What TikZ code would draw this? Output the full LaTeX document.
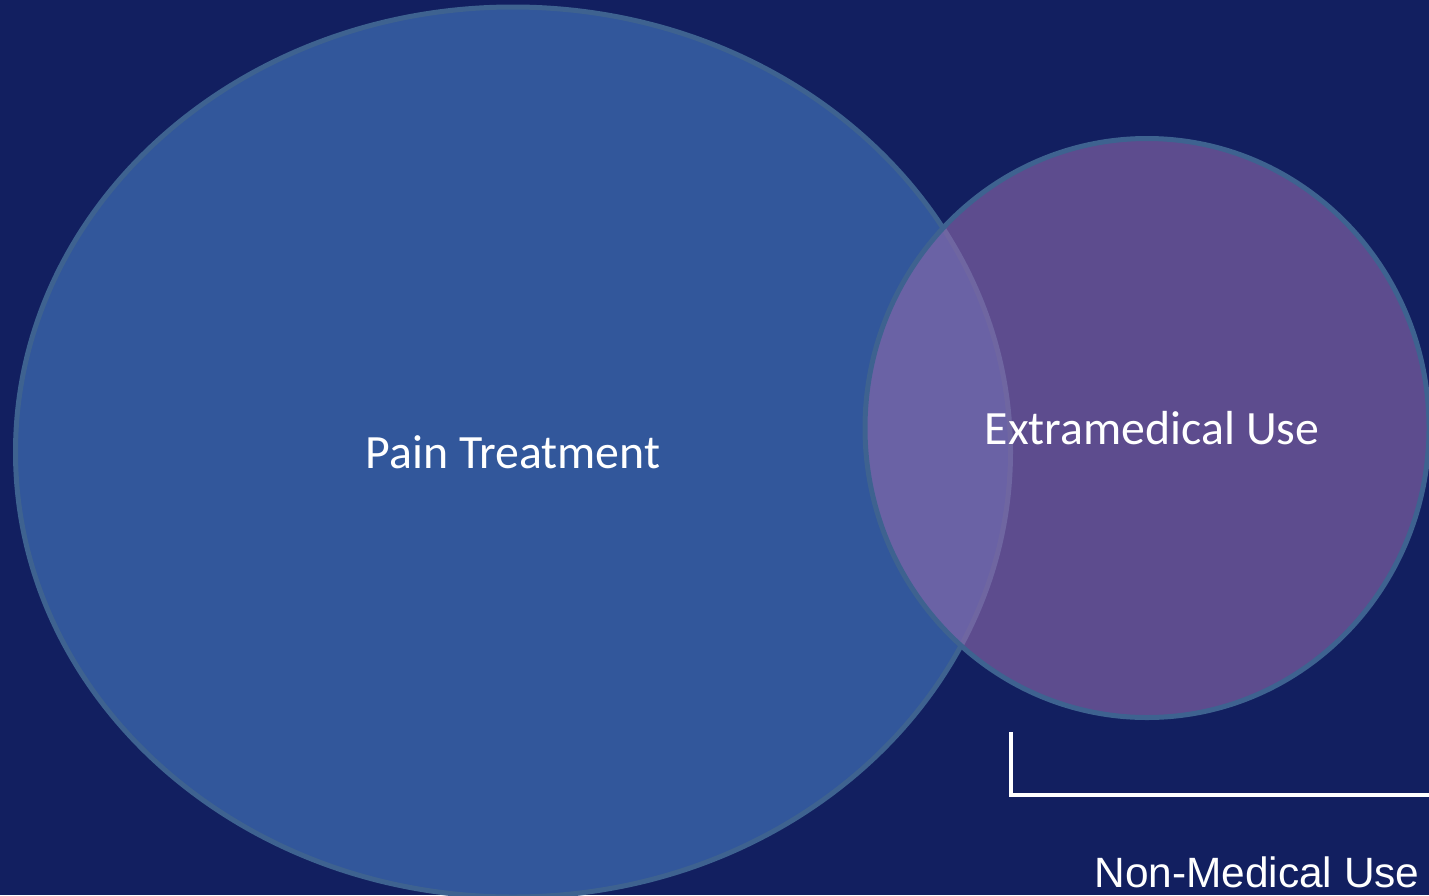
\documentclass[tikz,border=0pt]{standalone}
\usepackage{fontspec}
\setmainfont{Carlito}
\newfontfamily\arialfont{Liberation Sans}
\usetikzlibrary{shapes.geometric,positioning}
\definecolor{slidebg}{RGB}{18,31,96}
\definecolor{painblue}{RGB}{50,87,155}
\definecolor{ringblue}{RGB}{62,98,144}
\definecolor{usepurple}{RGB}{144,106,173}
\tikzstyle{painset} = [ellipse, minimum width=497.5pt, minimum height=445pt, draw=ringblue, line width=2.5pt, fill=painblue, text=white, font=\fontsize{23.9}{28}\selectfont]
\tikzstyle{useset} = [ellipse, minimum width=282pt, minimum height=289.5pt, draw=ringblue, line width=2.5pt, fill=usepurple, fill opacity=0.6, text opacity=1, text=white, font=\fontsize{23.9}{28}\selectfont]
\tikzstyle{bracket} = [white, line width=2pt]

\begin{document}
\begin{tikzpicture}[x=0.5pt, y=-0.5pt]

\fill [slidebg] (0,0) rectangle (1429,895);
\useasboundingbox (0,0) rectangle (1429,895);

\node (pain) [painset] at (513,452) {Pain Treatment};
\node (extra) [useset] at (1147,428) {\hspace{5pt}Extramedical Use};

\coordinate (brtop) at (1011,732);
\coordinate (brend) at (1440,795);
\draw [bracket] (brtop) |- (brend);

\node (nonmed) [anchor=base east, text=white, font=\arialfont\fontsize{21.2}{25}\selectfont, inner sep=0pt] at (1420,887) {Non-Medical Use};

\end{tikzpicture}
\end{document}
